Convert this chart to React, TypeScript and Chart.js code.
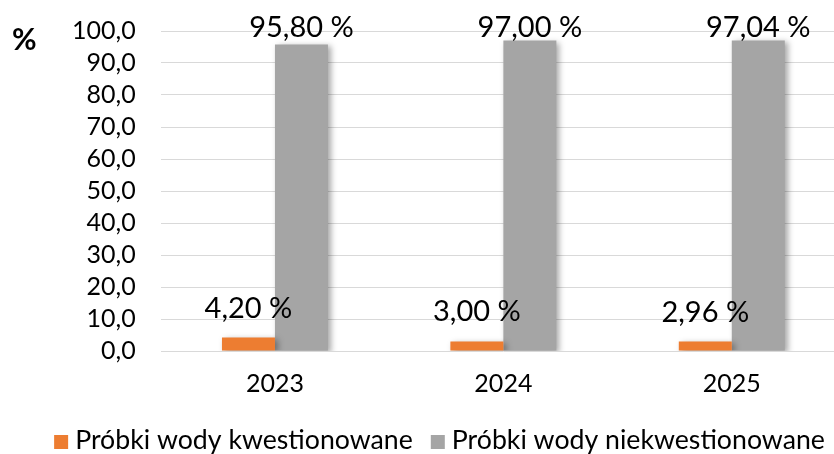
import React, { useEffect, useRef } from "react";
import { Chart, registerables } from "chart.js";

Chart.register(...registerables);

const categories = ["2023", "2024", "2025"];
const questionedLabel = "Próbki wody kwestionowane";
const unquestionedLabel = "Próbki wody niekwestionowane";
const questioned = [4.2, 3.0, 2.96];
const unquestioned = [95.8, 97.0, 97.04];
const yMin = 0;
const yMax = 100;
const yStep = 10;
const unitLabel = "%";

const ORANGE = "#ED7D31";
const GRAY = "#A5A5A5";
const FONT = "Lato, 'Open Sans', sans-serif";

const fmtTick = (v: number) => v.toFixed(1).replace(".", ",");
const fmtLabel = (v: number) => v.toFixed(2).replace(".", ",") + " %";

const shadowPlugin = {
  id: "barShadow",
  beforeDatasetsDraw(chart: any) {
    const ctx = chart.ctx;
    ctx.save();
    ctx.shadowColor = "rgba(0,0,0,0.35)";
    ctx.shadowBlur = 6;
    ctx.shadowOffsetX = 3;
    ctx.shadowOffsetY = 2;
  },
  afterDatasetsDraw(chart: any) {
    chart.ctx.restore();
  },
};

const labelPlugin = {
  id: "valueLabels",
  afterDatasetsDraw(chart: any) {
    const ctx = chart.ctx;
    ctx.save();
    ctx.font = `29px ${FONT}`;
    ctx.fillStyle = "#000";
    ctx.textAlign = "center";
    ctx.textBaseline = "alphabetic";
    chart.data.datasets.forEach((ds: any, i: number) => {
      const meta = chart.getDatasetMeta(i);
      meta.data.forEach((bar: any, j: number) => {
        const y = Math.max(bar.y - 20, chart.chartArea.top + 6);
        ctx.fillText(fmtLabel(ds.data[j]), bar.x, y);
      });
    });
    ctx.restore();
  },
  afterDraw(chart: any) {
    const ctx = chart.ctx;
    ctx.save();
    // unit label
    ctx.font = `bold 30px ${FONT}`;
    ctx.fillStyle = "#000";
    ctx.textAlign = "left";
    ctx.textBaseline = "alphabetic";
    ctx.fillText(unitLabel, 12, chart.chartArea.top + 19);
    // legend
    ctx.font = `26.7px ${FONT}`;
    const items = chart.data.datasets.map((ds: any) => ({
      text: ds.label,
      color: ds.backgroundColor,
      w: ctx.measureText(ds.label).width,
    }));
    const box = 14;
    const boxGap = 7;
    const itemGap = 18;
    let total = 0;
    items.forEach((it: any, i: number) => {
      total += box + boxGap + it.w + (i < items.length - 1 ? itemGap : 0);
    });
    const center = chart.width / 2 + 1.5;
    let x = center - total / 2;
    const baseline = chart.height - 5;
    items.forEach((it: any) => {
      ctx.fillStyle = it.color;
      ctx.fillRect(x, baseline - 14, box, box);
      x += box + boxGap;
      ctx.fillStyle = "#000";
      ctx.fillText(it.text, x, baseline);
      x += it.w + itemGap;
    });
    ctx.restore();
  },
};

export default function App() {
  const ref = useRef<HTMLCanvasElement | null>(null);

  useEffect(() => {
    if (!ref.current) return;
    const chart = new Chart(ref.current, {
      type: "bar",
      data: {
        labels: categories,
        datasets: [
          {
            label: questionedLabel,
            data: questioned,
            backgroundColor: ORANGE,
            borderWidth: 0,
            categoryPercentage: 0.464,
            barPercentage: 1,
          },
          {
            label: unquestionedLabel,
            data: unquestioned,
            backgroundColor: GRAY,
            borderWidth: 0,
            categoryPercentage: 0.464,
            barPercentage: 1,
          },
        ],
      },
      options: {
        responsive: false,
        animation: false,
        layout: { padding: { top: 31, left: 30, right: 30, bottom: 45 } },
        plugins: {
          legend: { display: false },
          tooltip: { enabled: false },
        },
        scales: {
          x: {
            grid: { display: false, drawTicks: false },
            border: { display: false },
            ticks: {
              font: { family: FONT, size: 25 },
              color: "#000",
              padding: 18,
            },
            afterFit(scale: any) {
              scale.height = 58;
            },
          },
          y: {
            min: yMin,
            max: yMax,
            grid: { color: "#D9D9D9", lineWidth: 1, drawTicks: false },
            border: { display: false },
            ticks: {
              stepSize: yStep,
              autoSkip: false,
              font: { family: FONT, size: 25 },
              color: "#000",
              padding: 25,
              callback: (v: any) => fmtTick(Number(v)),
            },
            afterFit(scale: any) {
              scale.width = 130.75;
              scale.paddingTop = 0;
              scale.paddingBottom = 0;
            },
          },
        },
      },
      plugins: [shadowPlugin, labelPlugin],
    });
    document.fonts?.load(`24px Lato`).then(() => chart.update());
    return () => chart.destroy();
  }, []);

  return (
    <div
      style={{
        position: "fixed",
        left: 0,
        top: 0,
        width: 834,
        height: 454,
        overflow: "hidden",
        background: "#fff",
      }}
    >
      <canvas ref={ref} width={876} height={454} />
    </div>
  );
}
